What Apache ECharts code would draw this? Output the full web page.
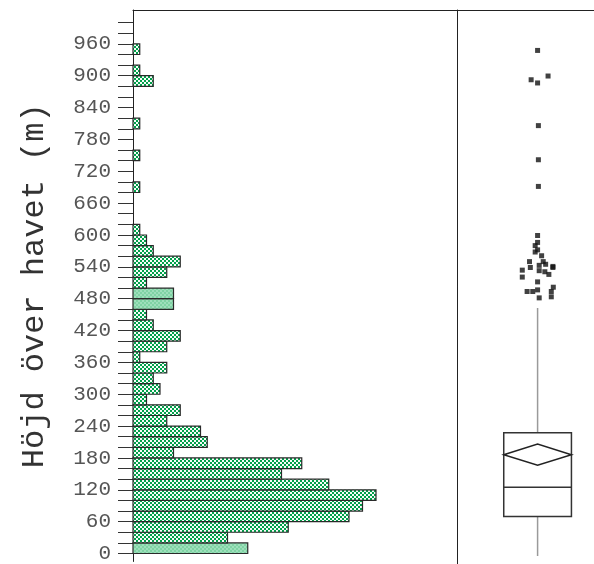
<!DOCTYPE html>
<html><head><meta charset="utf-8">
<script src="https://cdn.jsdelivr.net/npm/echarts@6/dist/echarts.min.js"></script>
<style>html,body{margin:0;padding:0;background:#fff}#c{width:594px;height:564px}</style>
</head><body><div id="c"></div>
<script>
// ---- data ----
const binStart = [0,20,40,60,80,100,120,140,160,180,200,220,240,260,280,300,320,340,360,380,400,420,440,460,480,500,520,540,560,580,600,620,640,660,680,700,720,740,760,780,800,820,840,860,880,900,920,940];
const binCount = [17,14,23,32,34,36,29,22,25,6,11,10,5,7,2,4,3,5,1,5,7,3,2,6,6,2,5,7,3,2,1,0,0,0,1,0,0,1,0,0,1,0,0,0,3,1,0,1];
const binWidth = 20;
const highlightedBins = [0,460,480];
const tickValues = [0,20,40,60,80,100,120,140,160,180,200,220,240,260,280,300,320,340,360,380,400,420,440,460,480,500,520,540,560,580,600,620,640,660,680,700,720,740,760,780,800,820,840,860,880,900,920,940,960,980,1000];
const labelValues = [0,60,120,180,240,300,360,420,480,540,600,660,720,780,840,900,960];
// box statistics: [lower whisker, q1, median, q3, upper whisker, mean, mean CI low, mean CI high]
const boxStats = [0,74,129,231,465,190,170,210];
// outliers: [horizontal jitter, height]
const outliers = [
 [0.00,948],[-0.08,893],[0.00,887],[0.13,900],[0.01,807],[0.01,743],[0.01,693],
 [0.00,601],[0.00,588],[-0.03,582],
 [0.00,574],[-0.03,570],[0.05,563],
 [-0.10,552],[0.07,552],[0.19,543],[0.19,541],[0.02,545],[-0.09,541],[0.10,547],
 [-0.19,536],[-0.19,523],[0.02,535],[0.09,533],[0.14,528],
 [0.00,514],[0.195,504],
 [0.00,499],[-0.13,496],[-0.06,496],[0.17,496],[0.02,484],[0.17,486]
];
const yTitle = 'Höjd över havet (m)';

// ---- patterns ----
function makePattern(c1, c2, cell) {
  const cv = document.createElement('canvas');
  cv.width = cv.height = cell * 2;
  const ctx = cv.getContext('2d');
  ctx.fillStyle = c2; ctx.fillRect(0, 0, cell * 2, cell * 2);
  ctx.fillStyle = c1; ctx.fillRect(0, 0, cell, cell); ctx.fillRect(cell, cell, cell, cell);
  return { image: cv, repeat: 'repeat' };
}
const patNormal = makePattern('#00a04a', '#f7fcf9', 2);
const patLight = makePattern('#7fd3a4', '#9edfbb', 2);

const histData = binStart.map((s, i) => [s, s + binWidth, binCount[i], highlightedBins.indexOf(s) >= 0 ? 1 : 0]);

const chart = echarts.init(document.getElementById('c'), null, { renderer: 'canvas' });
const yMin = -15, yMax = 1023.8;
const monoFont = 'Liberation Mono';
chart.setOption({
  animation: false,
  grid: [
    { left: 133, top: 10, width: 324, bottom: 0 },
    { left: 457, top: 10, right: 0, bottom: 0 }
  ],
  xAxis: [
    { gridIndex: 0, type: 'value', min: 0, max: 48, position: 'top',
      axisLine: { show: true, onZero: false, lineStyle: { color: '#222', width: 1 } },
      axisTick: { show: false }, axisLabel: { show: false }, splitLine: { show: false } },
    { gridIndex: 1, type: 'value', min: -1, max: 0.7, position: 'top',
      axisLine: { show: true, onZero: false, lineStyle: { color: '#222', width: 1 } },
      axisTick: { show: false }, axisLabel: { show: false }, splitLine: { show: false } }
  ],
  yAxis: [
    { gridIndex: 0, type: 'value', min: yMin, max: yMax,
      axisLine: { show: true, onZero: false, lineStyle: { color: '#222', width: 1 } },
      axisTick: { show: true, length: 15, customValues: tickValues, lineStyle: { color: '#333', width: 1 } },
      axisLabel: { show: true, customValues: labelValues, fontFamily: monoFont, fontSize: 21, color: '#555', margin: 22, padding: [10, 0, 0, 0] },
      splitLine: { show: false },
      name: yTitle, nameLocation: 'middle', nameGap: 82,
      nameTextStyle: { fontFamily: monoFont, fontSize: 32, color: '#333' } },
    { gridIndex: 1, type: 'value', min: yMin, max: yMax,
      axisLine: { show: true, onZero: false, lineStyle: { color: '#222', width: 1 } },
      axisTick: { show: false }, axisLabel: { show: false }, splitLine: { show: false } }
  ],
  series: [
    { type: 'custom', coordinateSystem: 'cartesian2d', xAxisIndex: 0, yAxisIndex: 0,
      encode: { x: 2, y: [0, 1] },
      data: histData,
      renderItem: function (params, api) {
        const lo = api.value(0), hi = api.value(1), n = api.value(2), hl = api.value(3);
        if (!n) return null;
        const p0 = api.coord([0, hi]);
        const p1 = api.coord([n, lo]);
        return { type: 'rect',
          shape: { x: p0[0], y: p0[1], width: p1[0] - p0[0], height: p1[1] - p0[1] },
          style: { fill: hl ? patLight : patNormal, stroke: '#2a2a2a', lineWidth: 1.2 } };
      } },
    { type: 'custom', coordinateSystem: 'cartesian2d', xAxisIndex: 1, yAxisIndex: 1,
      encode: { x: 0, y: [1, 2, 3, 4, 5] },
      data: [[0].concat(boxStats)],
      renderItem: function (params, api) {
        const half = 0.42;
        const xc = api.coord([0, 0])[0], x0 = api.coord([-half, 0])[0], x1 = api.coord([half, 0])[0];
        const y = v => api.coord([0, v])[1];
        const lw = api.value(1), q1 = api.value(2), med = api.value(3), q3 = api.value(4), uw = api.value(5);
        const mean = api.value(6), mlo = api.value(7), mhi = api.value(8);
        return { type: 'group', children: [
          { type: 'line', shape: { x1: xc, y1: y(q3), x2: xc, y2: y(uw) }, style: { stroke: '#9a9a9a', lineWidth: 1.5 } },
          { type: 'line', shape: { x1: xc, y1: y(q1), x2: xc, y2: y(lw) }, style: { stroke: '#9a9a9a', lineWidth: 1.5 } },
          { type: 'rect', shape: { x: x0, y: y(q3), width: x1 - x0, height: y(q1) - y(q3) }, style: { fill: 'none', stroke: '#333', lineWidth: 1.5 } },
          { type: 'line', shape: { x1: x0, y1: y(med), x2: x1, y2: y(med) }, style: { stroke: '#333', lineWidth: 1.5 } },
          { type: 'polygon', shape: { points: [[x0, y(mean)], [xc, y(mhi)], [x1, y(mean)], [xc, y(mlo)]] }, style: { fill: 'none', stroke: '#222', lineWidth: 1.5 } }
        ] };
      } },
    { type: 'scatter', xAxisIndex: 1, yAxisIndex: 1, symbol: 'rect', symbolSize: 5,
      itemStyle: { color: '#111' }, data: outliers }
  ]
});
</script></body></html>
